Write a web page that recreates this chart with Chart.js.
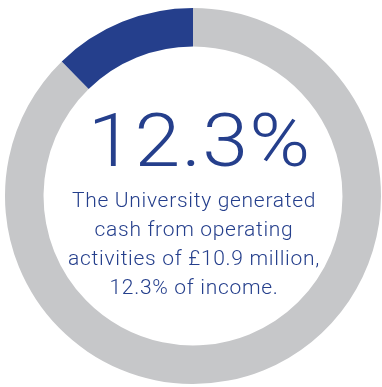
<!DOCTYPE html>
<html>
<head>
<meta charset="utf-8">
<script src="https://cdn.jsdelivr.net/npm/chart.js@4"></script>
<style>
  html, body { margin: 0; padding: 0; background: #fff; overflow: hidden; }
  #wrap { position: relative; width: 384px; height: 387px; }
  #ring { position: absolute; left: 0; top: 0; }
  .label { position: absolute; left: 0; width: 388px; text-align: center; color: #253f8c; font-family: Roboto, "Open Sans", sans-serif; }
  #big { top: 103px; font-size: 75px; line-height: 75px; font-weight: 300; letter-spacing: 1px; padding-left: 10px; box-sizing: border-box; transform: scaleX(1.1); transform-origin: 194px 0; }
  #note { top: 186px; font-size: 21px; line-height: 29px; font-weight: 300; letter-spacing: 0.7px; }
</style>
</head>
<body>
<div id="wrap">
  <canvas id="ring" width="384" height="387"></canvas>
  <div class="label" id="big">12.3%</div>
  <div class="label" id="note">The University generated<br>cash from operating<br>activities of £10.9 million,<br>12.3% of income.</div>
</div>
<script>
// share of income: rest of income first, cash from operations last so it ends at 12 o'clock
const categories = ['Other income', 'Cash from operating activities'];
const shares = [87.7, 12.3];
const colours = ['#c6c7c9', '#253f8c'];

new Chart(document.getElementById('ring'), {
  type: 'doughnut',
  data: {
    labels: categories,
    datasets: [{
      data: shares,
      backgroundColor: colours,
      borderWidth: 0
    }]
  },
  options: {
    responsive: false,
    animation: false,
    cutout: '79.5%',
    layout: { padding: { left: 5, right: 3, top: 7, bottom: 2 } },
    plugins: {
      legend: { display: false },
      tooltip: { enabled: false }
    }
  }
});
</script>
</body>
</html>
